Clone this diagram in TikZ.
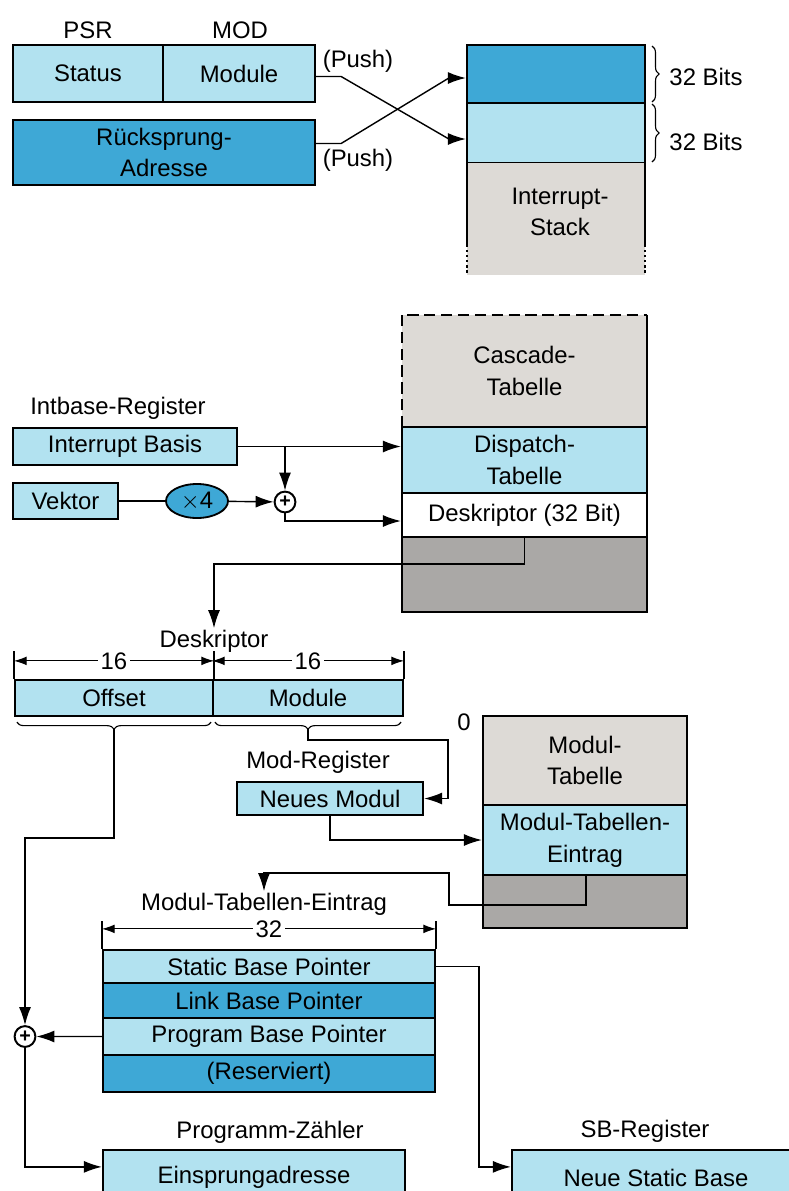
\documentclass[tikz,border=0pt]{standalone}
\usepackage{fontspec}
\setmainfont{Liberation Sans}
\usepackage{tikz}
\usetikzlibrary{positioning, fit, calc, arrows.meta, shapes.geometric, decorations.pathreplacing}
\definecolor{ltblue}{RGB}{178,226,240}
\definecolor{dkblue}{RGB}{62,168,214}
\definecolor{ltgray}{RGB}{221,218,214}
\definecolor{dkgray}{RGB}{170,168,166}

\begin{document}
\begin{tikzpicture}[x=0.025cm, y=-0.025cm,
                    font=\fontsize{17}{22.5}\selectfont,
                    reg/.style={draw, line width=1.6pt, inner sep=0pt, fill=ltblue},
                    regd/.style={reg, fill=dkblue},
                    txt/.style={label={[align=center, inner sep=0pt]center:#1}},
                    frame/.style={line width=1.6pt},
                    conn/.style={line width=1pt},
                    arr/.style={conn, -{Latex[length=4.5mm, width=3mm]}},
                    dim/.style={line width=0.8pt, {Latex[length=3.2mm, width=2.2mm]}-{Latex[length=3.2mm, width=2.2mm]}},
                    brc/.style={line width=0.8pt, decorate, decoration={brace, amplitude=5pt}},
                    lbl/.style={inner sep=1pt},
                    sum/.style={circle, draw, line width=1.4pt, fill=white, minimum size=0.52cm, inner sep=0pt, font=\bfseries\fontsize{14}{14}\selectfont}]
                    \clip (0,0) rectangle (789,1191);

                    \node (status) [reg, txt=Status, fit={(13,45) (163,102)}] {};
                    \node (module) [reg, txt=Module, fit={(163,45) (315,102)}] {};
                    \node (psr) [lbl] at (88,30) {PSR};
                    \node (mod) [lbl] at (240,30) {MOD};
                    \node (ruck) [regd, txt={R\"ucksprung-\\Adresse}, fit={(13,120) (315,185)}] {};
                    \node (push1) [lbl] at (358,61) {(Push)};
                    \node (push2) [lbl] at (358,160) {(Push)};

                    \node (stack1) [regd, fit={(467,45) (645,103)}] {};
                    \node (stack2) [reg, fit={(467,103) (645,163)}] {};
                    \fill[ltgray] (467,163) rectangle (645,275);
                    \node (stack3) [lbl, align=center] at (560,212) {Interrupt-\\Stack};
                    \foreach \x in {467,645} {
                        \draw[frame] (\x,163) -- (\x,245);
                        \draw[frame, dotted] (\x,245) -- (\x,275);
                    }
                    \draw[brc] (652,46) -- (652,102);
                    \draw[brc] (652,104) -- (652,162);
                    \node (bits1) [lbl] at (706,77) {32 Bits};
                    \node (bits2) [lbl] at (706,142) {32 Bits};

                    \draw[arr] ($(module.east)+(0,3)$) -- ++(25,0) -- ($(stack2.west)+(-17,6)$) -- ($(stack2.west)+(0,6)$);
                    \draw[arr] ($(ruck.east)+(0,-9)$) -- ++(25,0) -- ($(stack1.west)+(-17,4)$) -- ($(stack1.west)+(0,4)$);

                    \node (cascade) [fill=ltgray, inner sep=0pt, txt={Cascade-\\Tabelle}, fit={(402,315) (647,427)}] {};
                    \draw[frame, dash pattern=on 8pt off 4pt] (cascade.south west) -- (cascade.north west) -- (cascade.north east);
                    \draw[frame] (cascade.north east) -- (cascade.south east);
                    \node (dispatch) [reg, txt={Dispatch-\\Tabelle}, fit={(402,427) (647,493)}] {};
                    \node (deskr) [reg, fill=white, txt={Deskriptor (32 Bit)}, fit={(402,493) (647,537)}] {};
                    \node (dgray) [reg, fill=dkgray, fit={(402,537) (647,612)}] {};

                    \node (intlbl) [lbl] at (118,408) {Intbase-Register};
                    \node (intbase) [reg, txt={Interrupt Basis}, fit={(13,428) (237,465)}] {};
                    \node (vektor) [reg, txt=Vektor, fit={(13,483) (118,519)}] {};
                    \node (times) [ellipse, draw, line width=1.3pt, fill=dkblue, minimum width=1.55cm, minimum height=0.85cm, inner sep=0pt] at (197,501) {$\times$4};
                    \node (plus1) [sum] at (285,502) {+};

                    \draw[arr] (intbase.east) -- (dispatch.west |- intbase.east);
                    \draw[arr] (plus1.north |- intbase.east) -- (plus1.north);
                    \draw[conn] (vektor) -- (times);
                    \draw[arr] (times) -- (plus1);
                    \draw[arr] (plus1.south) |- ($(deskr.west)+(0,6)$);

                    \node (desklbl) [lbl] at (214,641) {Deskriptor};
                    \draw[arr] (deskr.south) -- ++(0,26) -| (desklbl.north);

                    \node (offset) [reg, txt=Offset, fit={(15,680) (213,716)}] {};
                    \node (modbox) [reg, txt=Module, fit={(213,680) (403,716)}] {};
                    \foreach \p in {offset.north west, offset.north east, modbox.north east} {
                        \draw[conn] (\p) -- ++(0,-28);
                    }
                    \draw[dim] ($(offset.north west)+(0,-18)$) -- node[fill=white, inner sep=2pt] {16} ($(offset.north east)+(0,-18)$);
                    \draw[dim] ($(modbox.north west)+(0,-18)$) -- node[fill=white, inner sep=2pt] {16} ($(modbox.north east)+(0,-18)$);
                    \draw[brc] ($(offset.south east)+(-3,5)$) -- ($(offset.south west)+(3,5)$);
                    \draw[brc] ($(modbox.south east)+(-3,5)$) -- ($(modbox.south west)+(3,5)$);
                    \coordinate (offtip) at ($(offset.south)+(0,12)$);
                    \coordinate (modtip) at ($(modbox.south)+(0,12)$);

                    \node (modlbl) [lbl] at (318,762) {Mod-Register};
                    \node (neumod) [reg, txt={Neues Modul}, fit={(237,782) (423,815)}] {};
                    \node (zero) [lbl] at (464,722) {0};
                    \node (modtab) [reg, fill=ltgray, txt={Modul-\\Tabelle}, fit={(483,716) (687,805)}] {};
                    \node (modentry) [reg, txt={Modul-Tabellen-\\Eintrag}, fit={(483,805) (687,875)}] {};
                    \node (modgray) [reg, fill=dkgray, fit={(483,875) (687,928)}] {};

                    \coordinate (bendB) at (448,740);
                    \draw[arr] (modtip) |- (bendB) |- (neumod.east);
                    \draw[arr] (neumod.south) |- (modentry.west);

                    \node (mtelbl) [lbl] at (264,904) {Modul-Tabellen-Eintrag};
                    \coordinate (bendC) at (586,905);
                    \coordinate (bendD) at (449,873);
                    \draw[arr] (modgray.north -| bendC) -- (bendC) -| (bendD) -| (mtelbl.north);

                    \node (sbp) [reg, txt={Static Base Pointer}, fit={(103,950) (435,983)}] {};
                    \node (lbp) [regd, txt={Link Base Pointer}, fit={(103,983) (435,1018)}] {};
                    \node (pbp) [reg, txt={Program Base Pointer}, fit={(103,1018) (435,1055)}] {};
                    \node (res) [regd, txt={(Reserviert)}, fit={(103,1055) (435,1092)}] {};
                    \foreach \p in {sbp.north west, sbp.north east} {
                        \draw[conn] (\p) -- ++(0,-28);
                    }
                    \draw[dim] ($(sbp.north west)+(0,-20)$) -- node[fill=white, inner sep=2pt] {32} ($(sbp.north east)+(0,-20)$);

                    \node (plus2) [sum] at (25,1036.5) {+};
                    \coordinate (bendA) at (25,838);
                    \draw[arr] (offtip) |- (bendA) -- (plus2.north);
                    \draw[arr] (pbp.west) -- (plus2.east);

                    \node (pclbl) [lbl] at (270,1132) {Programm-Z\"ahler};
                    \node (einspr) [reg, txt=Einsprungadresse, fit={(103,1150) (405,1205)}] {};
                    \draw[arr] (plus2.south) |- ($(einspr.north west)+(0,18)$);

                    \node (sblbl) [lbl] at (645,1131) {SB-Register};
                    \node (nsb) [reg, txt={Neue Static Base}, fit={(512,1150) (800,1205)}] {};
                    \draw[arr] (sbp.east) -- ++(43,0) |- ($(nsb.north west)+(0,18)$);
                \end{tikzpicture}
\end{document}
